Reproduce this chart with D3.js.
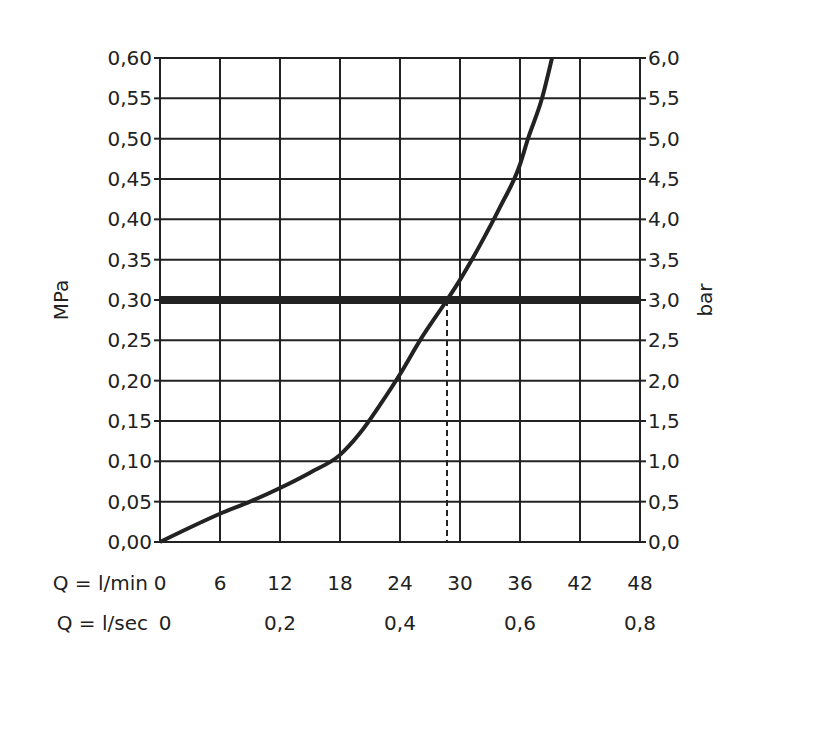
<!DOCTYPE html>
<html><head><meta charset="utf-8">
<script src="https://cdn.jsdelivr.net/npm/d3@7"></script>
<style>body{margin:0;background:#fff}</style></head>
<body><svg id="c" width="814" height="744"></svg>
<script>
const mpaTicks=["0,00","0,05","0,10","0,15","0,20","0,25","0,30","0,35","0,40","0,45","0,50","0,55","0,60"];
const barTicks=["0,0","0,5","1,0","1,5","2,0","2,5","3,0","3,5","4,0","4,5","5,0","5,5","6,0"];
const lminTicks=[0,6,12,18,24,30,36,42,48];
const lsecTicks=[[0,"0"],[12,"0,2"],[24,"0,4"],[36,"0,6"],[48,"0,8"]];
const curveQ=[0,3,6,9,12,15,18,20,22,24,26,28.7,30,32,34,36,36.8,38.2,39.2];
const curveP=[0,0.018,0.035,0.05,0.067,0.086,0.108,0.135,0.17,0.208,0.25,0.30,0.325,0.368,0.415,0.468,0.50,0.55,0.60];
const refP=0.30, refQ=28.7;

const svg=d3.select("#c");
const x=d3.scaleLinear().domain([0,48]).range([160,640]);
const y=d3.scaleLinear().domain([0,0.6]).range([542,58]);
const font="'DejaVu Sans', sans-serif";
const g=svg.append("g");
lminTicks.forEach(v=>g.append("line").attr("x1",x(v)).attr("x2",x(v)).attr("y1",y(0)).attr("y2",y(0.6)).attr("stroke","#222").attr("stroke-width",2));
mpaTicks.forEach((t,i)=>g.append("line").attr("x1",x(0)).attr("x2",x(48)).attr("y1",y(i*0.05)).attr("y2",y(i*0.05)).attr("stroke","#222").attr("stroke-width",2));
mpaTicks.forEach((t,i)=>{
  g.append("line").attr("x1",x(0)-6).attr("x2",x(0)).attr("y1",y(i*0.05)).attr("y2",y(i*0.05)).attr("stroke","#222").attr("stroke-width",2);
  g.append("line").attr("x1",x(48)).attr("x2",x(48)+6).attr("y1",y(i*0.05)).attr("y2",y(i*0.05)).attr("stroke","#222").attr("stroke-width",2);
  g.append("text").attr("x",x(0)-8).attr("y",y(i*0.05)).attr("dy","0.35em").attr("text-anchor","end").attr("font-family",font).attr("font-size",20).attr("fill","#222").text(t);
  g.append("text").attr("x",x(48)+8).attr("y",y(i*0.05)).attr("dy","0.35em").attr("font-family",font).attr("font-size",20).attr("fill","#222").text(barTicks[i]);
});
g.append("line").attr("x1",x(0)).attr("x2",x(48)).attr("y1",y(refP)).attr("y2",y(refP)).attr("stroke","#222").attr("stroke-width",8);
g.append("line").attr("x1",x(refQ)).attr("x2",x(refQ)).attr("y1",y(refP)).attr("y2",y(0)).attr("stroke","#222").attr("stroke-width",2).attr("stroke-dasharray","6,4");
const line=d3.line().x(d=>x(d[0])).y(d=>y(d[1])).curve(d3.curveMonotoneX);
g.append("path").attr("d",line(curveQ.map((q,i)=>[q,curveP[i]]))).attr("fill","none").attr("stroke","#222").attr("stroke-width",4);
lminTicks.forEach(v=>g.append("text").attr("x",x(v)).attr("y",590).attr("text-anchor","middle").attr("font-family",font).attr("font-size",20).attr("fill","#222").text(v));
lsecTicks.forEach(d=>g.append("text").attr("x",x(d[0])+(d[0]===0?5:0)).attr("y",630).attr("text-anchor","middle").attr("font-family",font).attr("font-size",20).attr("fill","#222").text(d[1]));
g.append("text").attr("x",148).attr("y",590).attr("text-anchor","end").attr("font-family",font).attr("font-size",20).attr("fill","#222").text("Q = l/min");
g.append("text").attr("x",148).attr("y",630).attr("text-anchor","end").attr("font-family",font).attr("font-size",20).attr("fill","#222").text("Q = l/sec");
g.append("text").attr("transform","translate(68,300) rotate(-90)").attr("text-anchor","middle").attr("font-family",font).attr("font-size",20).attr("fill","#222").text("MPa");
g.append("text").attr("transform","translate(712,300) rotate(-90)").attr("text-anchor","middle").attr("font-family",font).attr("font-size",20).attr("fill","#222").text("bar");
</script></body></html>
